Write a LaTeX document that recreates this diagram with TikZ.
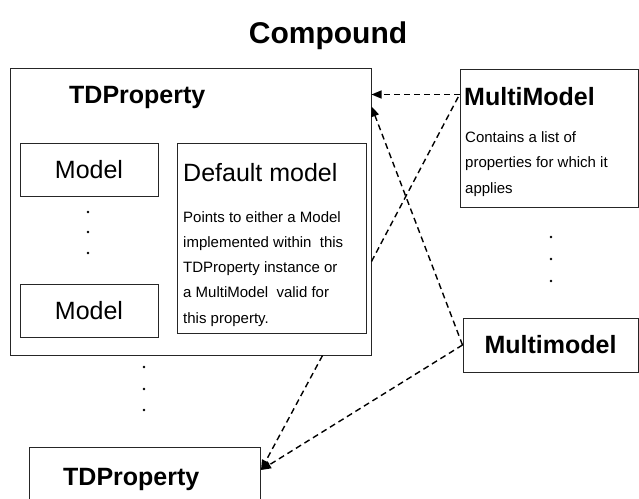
\documentclass[tikz,border=0pt]{standalone}
\usepackage{fontspec}
\setmainfont{Liberation Sans}
\usetikzlibrary{arrows.meta}

\begin{document}
\begin{tikzpicture}[x=1pt, y=-1pt,
		box/.style = {draw=black!85, line width=1pt, inner sep=0pt},
		big/.style = {font=\fontsize{25}{30}\selectfont},
		head/.style = {font=\fontsize{25}{30}\selectfont\bfseries},
		body/.style = {font=\fontsize{15}{25.25}\selectfont, align=left, inner sep=0pt},
		link/.style = {dash pattern=on 6pt off 4pt, line width=1.4pt},
		ref/.style = {link, -{Triangle[length=10pt, width=8pt]}}]
		\useasboundingbox (0,0) rectangle (639,498);
		\node[font=\fontsize{30}{36}\selectfont\bfseries, anchor=base] (title) at (328,43) {Compound};
		% property with its models
		\node[box, minimum width=361pt, minimum height=287pt] (prop) at (190.5,211.5) {};
		\node[head, anchor=base west, inner sep=0pt] (proptitle) at (69,103) {TDProperty};
		\node[box, big, minimum width=138pt, minimum height=53pt] (model1) at (89,169.5) {Model};
		\node[box, big, minimum width=138pt, minimum height=53pt] (model2) at (89,310.5) {Model};
		\node[box, minimum width=189pt, minimum height=190pt] (default) at (271.5,238) {};
		\node[big, anchor=base west, inner sep=0pt] (defaulttitle) at (183,181) {Default model};
		\node[body, anchor=base west] (defaulttext) at (183,323) {Points to either a Model\\implemented within~ this\\TDProperty instance or\\a MultiModel~ valid for\\this property.};
		% multimodels
		\node[box, minimum width=178pt, minimum height=138pt] (multi) at (549,138) {};
		\node[head, anchor=base west, inner sep=0pt] (multititle) at (464,105) {MultiModel};
		\node[body, font=\fontsize{15}{25.5}\selectfont, anchor=base west] (multitext) at (465,193) {Contains a list of\\properties for which it\\applies};
		\node[box, head, minimum width=175pt, minimum height=54pt] (mm) at (550.5,345) {Multimodel};
		% next property
		\node[box, minimum width=231pt, minimum height=70pt, anchor=north west] (prop2) at (29,447) {};
		\node[head, anchor=base west, inner sep=0pt] (prop2title) at (63,485) {TDProperty};
		\foreach \x/\y in {88/212, 88/232, 88/253, 144/367, 144/389, 144/410, 551/237, 551/259, 551/281}
			\fill (\x,\y) circle (1.3pt);
		\coordinate (min) at ([yshift=-26pt]multi.north west);
		\draw[ref] (min) -- ([yshift=-27pt]prop.north east);
		\draw[ref] (mm.west) -- ([yshift=-39pt]prop.north east);
		\draw[link] ([yshift=-194pt]prop.north east) -- (min);
		\draw[ref] ([xshift=-49pt]prop.south east) -- ([yshift=-23pt]prop2.north east);
		\draw[ref] (mm.west) -- ([yshift=-23pt]prop2.north east);
	\end{tikzpicture}
\end{document}
